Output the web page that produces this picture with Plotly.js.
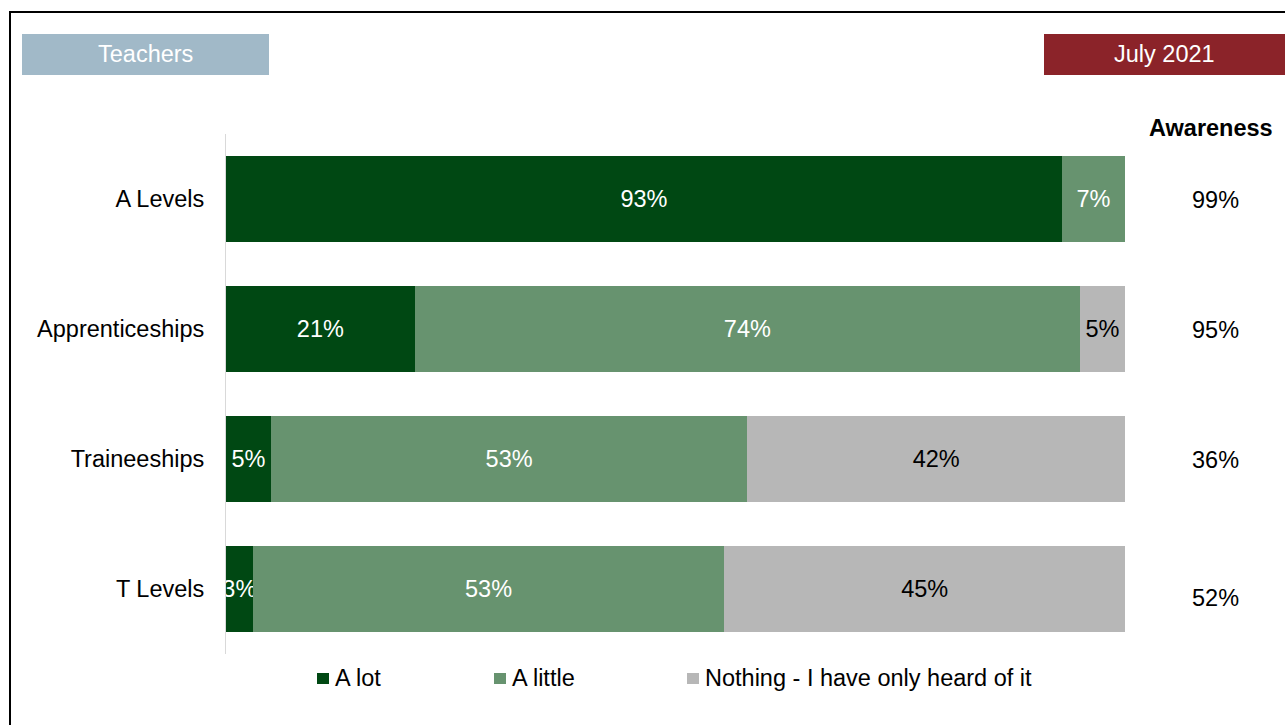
<!DOCTYPE html>
<html>
<head>
<meta charset="utf-8">
<script src="https://cdn.plot.ly/plotly-3.0.1.min.js"></script>
<style>html,body{margin:0;padding:0;background:#fff;}#chart{width:1285px;height:725px;}</style>
</head>
<body>
<div id="chart"></div>
<script>
const categories = ["A Levels", "Apprenticeships", "Traineeships", "T Levels"];
const aLot = [93, 21, 5, 3];
const aLittle = [7, 74, 53, 53];
const nothing = [0, 5, 42, 45];
const awareness = ["99%", "95%", "36%", "52%"];
const seriesNames = ["A lot", "A little", "Nothing - I have only heard of it"];
const seriesColors = ["#004813", "#67936F", "#B7B7B7"];
const textColors = ["#FFFFFF", "#FFFFFF", "#000000"];
const FONT = "Liberation Sans, Arial, sans-serif";
const FS = 23.5;

const W = 1285, H = 725, L = 226, R = 160, T = 134, B = 71;
const pw = W - L - R, ph = H - T - B;
const px = x => (x - L) / pw;
const py = y => 1 - (y - T) / ph;

const seriesVals = [aLot, aLittle, nothing];
const traces = seriesVals.map((vals, i) => ({
  type: "bar",
  orientation: "h",
  name: seriesNames[i],
  y: categories,
  x: vals,
  text: vals.map(v => v > 0 ? v + "%" : ""),
  texttemplate: "%{text}",
  textposition: "inside",
  insidetextanchor: "middle",
  textangle: 0,
  constraintext: "none",
  cliponaxis: false,
  textfont: {family: FONT, size: FS, color: textColors[i]},
  marker: {color: seriesColors[i], line: {width: 0}},
  hoverinfo: "skip",
  showlegend: false
}));

const annotations = [
  {xref: "paper", yref: "paper", x: px(145), y: py(54), text: "Teachers", showarrow: false,
   font: {family: FONT, size: FS, color: "#FFFFFF"}, xanchor: "center", yanchor: "middle"},
  {xref: "paper", yref: "paper", x: px(1164), y: py(54), text: "July 2021", showarrow: false,
   font: {family: FONT, size: FS, color: "#FFFFFF"}, xanchor: "center", yanchor: "middle"},
  {xref: "paper", yref: "paper", x: px(1211), y: py(128), text: "<b>Awareness</b>", showarrow: false,
   font: {family: FONT, size: FS, color: "#000"}, xanchor: "center", yanchor: "middle"}
];
categories.forEach((c, i) => {
  annotations.push({xref: "paper", yref: "y", x: px(1215), y: c, text: awareness[i], showarrow: false,
    yshift: i === 3 ? -9 : -1,
    font: {family: FONT, size: FS, color: "#000"}, xanchor: "center", yanchor: "middle"});
});

const shapes = [
  {type: "rect", xref: "paper", yref: "paper", x0: px(22), x1: px(269), y0: py(34), y1: py(75),
   fillcolor: "#A1B9C8", line: {width: 0}, layer: "below"},
  {type: "rect", xref: "paper", yref: "paper", x0: px(1044), x1: px(1300), y0: py(34), y1: py(75),
   fillcolor: "#8B2329", line: {width: 0}, layer: "below"},
  {type: "rect", xref: "paper", yref: "paper", x0: px(10), x1: px(1300), y0: py(12), y1: py(740),
   fillcolor: "rgba(0,0,0,0)", line: {width: 2, color: "#000"}}
];

// custom legend
const legMarkX = [317, 494, 687];
const legY = 678.5;
seriesNames.forEach((n, i) => {
  shapes.push({type: "rect", xref: "paper", yref: "paper",
    x0: px(legMarkX[i]), x1: px(legMarkX[i] + 12), y0: py(legY - 5.5), y1: py(legY + 5.5),
    fillcolor: seriesColors[i], line: {width: 0}});
  annotations.push({xref: "paper", yref: "paper", x: px(legMarkX[i] + 16), y: py(legY - 1), text: n,
    showarrow: false, xanchor: "left", yanchor: "middle",
    font: {family: FONT, size: FS, color: "#000"}});
});

const layout = {
  width: W, height: H,
  margin: {l: L, r: R, t: T, b: B, pad: 0},
  paper_bgcolor: "#fff", plot_bgcolor: "#fff",
  barmode: "stack", barnorm: "percent", bargap: 0.346,
  showlegend: false,
  xaxis: {range: [0, 100], showgrid: false, zeroline: false, showticklabels: false, showline: false, fixedrange: true},
  yaxis: {autorange: "reversed", showgrid: false, zeroline: false, showline: true, linecolor: "#D9D9D9", linewidth: 1,
    ticks: "", ticklabelstandoff: 16,
    tickfont: {family: FONT, size: FS, color: "#000"}},
  annotations: annotations,
  shapes: shapes
};

Plotly.newPlot("chart", traces, layout, {displayModeBar: false, staticPlot: true});
</script>
</body>
</html>
